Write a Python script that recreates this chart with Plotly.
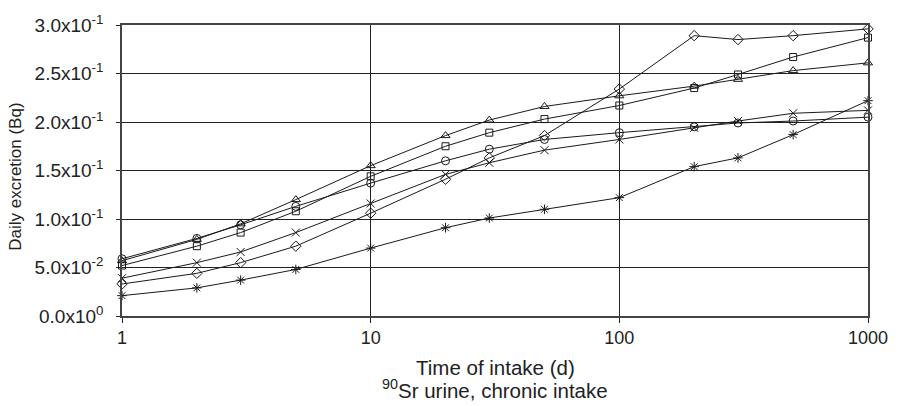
import plotly.graph_objects as go

days = [1, 2, 3, 5, 10, 20, 30, 50, 100, 200, 300, 500, 1000]

s_triangle = [0.057, 0.079, 0.095, 0.120, 0.155, 0.186, 0.202, 0.216, 0.227, 0.237, 0.244, 0.253, 0.261]
s_square = [0.052, 0.072, 0.086, 0.108, 0.144, 0.175, 0.189, 0.203, 0.217, 0.235, 0.249, 0.267, 0.287]
s_circle = [0.059, 0.080, 0.094, 0.113, 0.137, 0.160, 0.172, 0.182, 0.189, 0.195, 0.199, 0.201, 0.205]
s_diamond = [0.033, 0.044, 0.055, 0.072, 0.106, 0.141, 0.163, 0.186, 0.234, 0.289, 0.285, 0.289, 0.296]
s_cross = [0.039, 0.055, 0.066, 0.086, 0.116, 0.146, 0.158, 0.171, 0.182, 0.194, 0.201, 0.209, 0.212]
s_star = [0.021, 0.029, 0.037, 0.048, 0.070, 0.091, 0.101, 0.110, 0.122, 0.154, 0.163, 0.187, 0.222]

y_ticks = [0.0, 0.05, 0.10, 0.15, 0.20, 0.25, 0.30]
y_labels = ["0.0x10<sup>0</sup>", "5.0x10<sup>-2</sup>", "1.0x10<sup>-1</sup>", "1.5x10<sup>-1</sup>",
            "2.0x10<sup>-1</sup>", "2.5x10<sup>-1</sup>", "3.0x10<sup>-1</sup>"]
x_ticks = [1, 10, 100, 1000]
x_labels = ["1", "10", "100", "1000"]

x_title = "Time of intake (d)"
x_subtitle = "<sup>90</sup>Sr urine, chronic intake"
y_title = "Daily excretion (Bq)"

series = [
    (s_star, "asterisk-open", 8),
    (s_cross, "x-thin-open", 8),
    (s_diamond, "diamond-open", 8),
    (s_circle, "circle-open", 8),
    (s_square, "square-open", 7),
    (s_triangle, "triangle-up-open", 8),
]

fig = go.Figure()
for vals, sym, sz in series:
    fig.add_trace(go.Scatter(
        x=days, y=vals, mode="lines+markers", cliponaxis=False,
        line=dict(color="#1a1a1a", width=1),
        marker=dict(symbol=sym, size=sz, color="#1a1a1a",
                    line=dict(color="#1a1a1a", width=1)),
        showlegend=False,
    ))

fam = "Liberation Sans, Arial, sans-serif"
ink = "#222"

fig.update_layout(
    width=900, height=406,
    margin=dict(l=122, r=29, t=19, b=90),
    paper_bgcolor="white", plot_bgcolor="white",
    font=dict(family=fam, size=18, color=ink),
    xaxis=dict(
        type="log", range=[0, 3],
        tickvals=x_ticks, ticktext=x_labels,
        tickfont=dict(family=fam, size=18, color=ink),
        showgrid=True, gridcolor=ink, gridwidth=1,
        showline=True, linecolor="#444", linewidth=1.5, mirror=True,
        ticks="outside", ticklen=5, tickcolor=ink,
        zeroline=False,
    ),
    yaxis=dict(
        range=[0, 0.3],
        tickvals=y_ticks, ticktext=y_labels,
        tickfont=dict(family=fam, size=19, color=ink),
        showgrid=True, gridcolor=ink, gridwidth=1,
        showline=True, linecolor="#444", linewidth=1.5, mirror=True,
        ticks="outside", ticklen=4, tickcolor=ink,
        ticklabelstandoff=9,
        zeroline=False,
    ),
    annotations=[
        dict(text=x_title, xref="paper", yref="paper", x=0.5, y=(316 - 369) / 297,
             xanchor="center", yanchor="middle", showarrow=False,
             font=dict(family=fam, size=20.5, color=ink)),
        dict(text=x_subtitle, xref="paper", yref="paper", x=0.5, y=(316 - 391) / 297,
             xanchor="center", yanchor="middle", showarrow=False,
             font=dict(family=fam, size=20.5, color=ink)),
        dict(text=y_title, xref="paper", yref="paper", x=(15 - 122) / 749, y=0.48,
             xanchor="center", yanchor="middle", showarrow=False, textangle=-90,
             font=dict(family=fam, size=17, color=ink)),
    ],
)

fig.write_html("out.html")
